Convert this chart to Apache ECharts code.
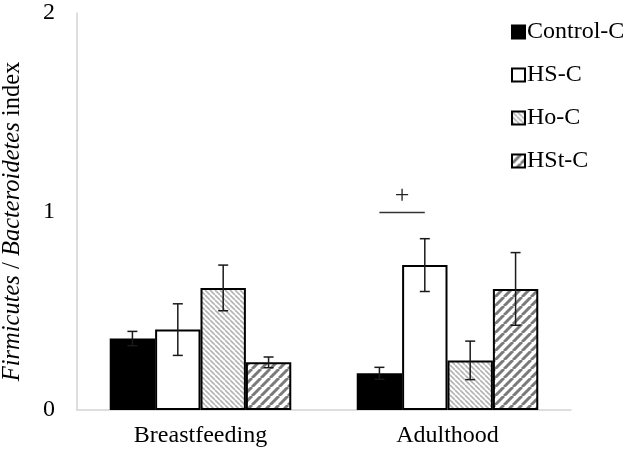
<!DOCTYPE html>
<html>
<head>
<meta charset="utf-8">
<script src="https://cdn.jsdelivr.net/npm/echarts@6/dist/echarts.min.js"></script>
<style>html,body{margin:0;padding:0;background:#fff;}#chart{width:630px;height:455px;}</style>
</head>
<body>
<div id="chart"></div>
<script>
// ---- data ----
const categories = ['Breastfeeding', 'Adulthood'];
const seriesNames = ['Control-C', 'HS-C', 'Ho-C', 'HSt-C'];
const controlC = [0.36, 0.185];
const hsC = [0.405, 0.73];
const hoC = [0.615, 0.25];
const hstC = [0.24, 0.61];
const controlErr = [0.036, 0.03];
const hsErr = [0.13, 0.133];
const hoErr = [0.115, 0.097];
const hstErr = [0.027, 0.183];
const yTickValues = [0, 1, 2];
const sigCategory = 1;          // Adulthood
const sigFromSeries = 0;        // Control-C
const sigToSeries = 1;          // HS-C
const sigLineValue = 0.995;
const sigLabel = '+';

// ---- styles ----
const FONT = "'Liberation Serif', 'Times New Roman', serif";
const FS = 24;
const CAT_GAP = 0.265;

function stripePattern(size, dir, color, width) {
  const c = document.createElement('canvas');
  c.width = size; c.height = size;
  const ctx = c.getContext('2d');
  ctx.fillStyle = '#fff';
  ctx.fillRect(0, 0, size, size);
  ctx.strokeStyle = color;
  ctx.lineWidth = width;
  for (let k = -1; k <= 1; k++) {
    ctx.beginPath();
    if (dir === 'back') {
      ctx.moveTo(k * size, 0); ctx.lineTo(k * size + size, size);
    } else {
      ctx.moveTo(k * size, size); ctx.lineTo(k * size + size, 0);
    }
    ctx.stroke();
  }
  return { image: c, repeat: 'repeat' };
}

const values = [controlC, hsC, hoC, hstC];
const errs = [controlErr, hsErr, hoErr, hstErr];
const fills = [
  '#000000',
  '#ffffff',
  stripePattern(5, 'back', '#b4b4b4', 1.6),
  stripePattern(9, 'fwd', '#7a7a7a', 3)
];

const barSeries = seriesNames.map((name, i) => ({
  name: name,
  type: 'bar',
  data: values[i],
  barGap: '0%',
  barCategoryGap: (CAT_GAP * 100) + '%',
  itemStyle: { color: fills[i], borderColor: '#000', borderWidth: 2 },
  z: 2
}));

const errData = [];
for (let s = 0; s < values.length; s++) {
  for (let c = 0; c < categories.length; c++) {
    errData.push([c, s, values[s][c], errs[s][c]]);
  }
}

function barOffset(api, s) {
  const catW = api.size([1, 0])[0];
  const barW = catW * (1 - CAT_GAP) / seriesNames.length;
  return { off: (s - (seriesNames.length - 1) / 2) * barW, barW: barW };
}

const errSeries = {
  type: 'custom',
  name: 'err',
  data: errData,
  z: 5,
  renderItem: function (params, api) {
    const c = api.value(0), s = api.value(1), v = api.value(2), e = api.value(3);
    const o = barOffset(api, s).off;
    const top = api.coord([c, v + e]);
    const bot = api.coord([c, v - e]);
    const x = top[0] + o;
    const cap = 5;
    const st = { stroke: '#1a1a1a', lineWidth: 1.5 };
    return {
      type: 'group',
      children: [
        { type: 'line', shape: { x1: x, y1: top[1], x2: x, y2: bot[1] }, style: st },
        { type: 'line', shape: { x1: x - cap, y1: top[1], x2: x + cap, y2: top[1] }, style: st },
        { type: 'line', shape: { x1: x - cap, y1: bot[1], x2: x + cap, y2: bot[1] }, style: st }
      ]
    };
  }
};

const sigSeries = {
  type: 'custom',
  name: 'sig',
  data: [[sigCategory, sigFromSeries, sigToSeries, sigLineValue]],
  z: 5,
  renderItem: function (params, api) {
    const c = api.value(0), a = api.value(1), b = api.value(2), v = api.value(3);
    const p = api.coord([c, v]);
    const oa = barOffset(api, a).off, ob = barOffset(api, b).off;
    const x1 = p[0] + oa, x2 = p[0] + ob;
    return {
      type: 'group',
      children: [
        { type: 'line', shape: { x1: x1, y1: p[1], x2: x2, y2: p[1] }, style: { stroke: '#333', lineWidth: 1.3 } },
        { type: 'text', x: (x1 + x2) / 2, y: p[1] - 16,
          style: { text: sigLabel, fill: '#222', font: '26px ' + FONT, align: 'center', verticalAlign: 'middle' } }
      ]
    };
  }
};

const chart = echarts.init(document.getElementById('chart'), null, { renderer: 'canvas' });
chart.setOption({
  animation: false,
  backgroundColor: '#fff',
  textStyle: { fontFamily: FONT },
  grid: { left: 77, right: 59, top: 13, bottom: 45, containLabel: false, outerBoundsMode: 'none' },
  legend: {
    data: seriesNames,
    orient: 'vertical',
    left: 506,
    top: 15,
    itemWidth: 13,
    itemHeight: 13,
    itemGap: 19,
    icon: 'rect',
    textStyle: { fontFamily: FONT, fontSize: FS, color: '#000', padding: [0, 0, 0, -3] }
  },
  xAxis: {
    type: 'category',
    data: categories,
    axisLine: { lineStyle: { color: '#d4d4d4', width: 1.5 } },
    axisTick: { show: false },
    axisLabel: { fontFamily: FONT, fontSize: FS, color: '#000', margin: 14 }
  },
  yAxis: {
    type: 'value',
    min: yTickValues[0],
    max: yTickValues[yTickValues.length - 1],
    interval: 1,
    axisLine: { show: true, lineStyle: { color: '#d4d4d4', width: 1.5 } },
    axisTick: { show: false },
    splitLine: { show: false },
    axisLabel: { fontFamily: FONT, fontSize: FS, color: '#000', margin: 22 },
    name: '{i|Firmicutes} / {i|Bacteroidetes} index',
    nameLocation: 'middle',
    nameGap: 52,
    nameRotate: 90,
    nameTextStyle: {
      fontFamily: FONT, fontSize: 24.5, color: '#000', padding: [0, 20, 0, 0],
      rich: { i: { fontFamily: FONT, fontSize: 24.5, fontStyle: 'italic', color: '#000' } }
    }
  },
  series: barSeries.concat([errSeries, sigSeries])
});
</script>
</body>
</html>
